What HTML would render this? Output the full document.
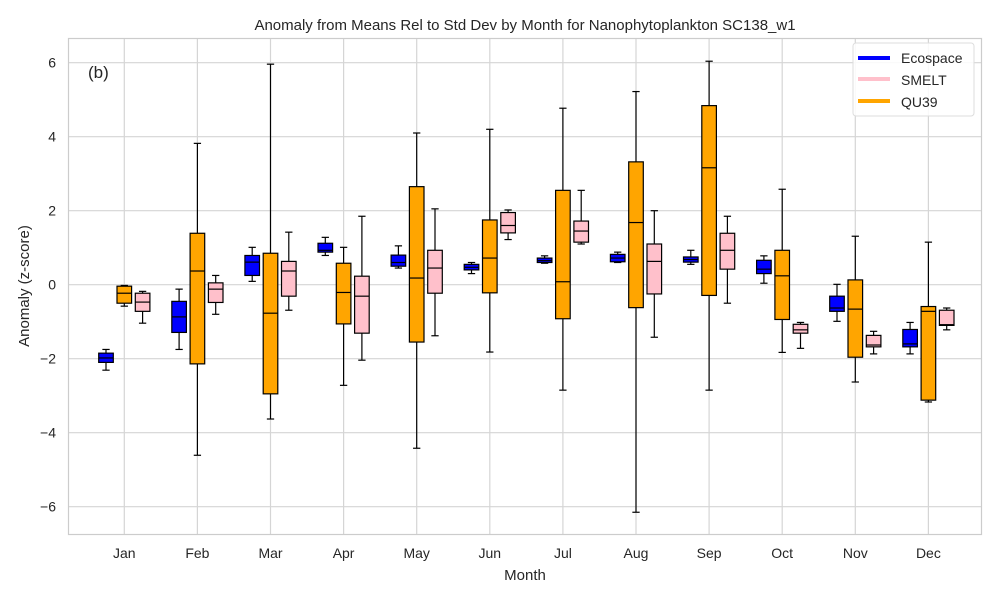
<!DOCTYPE html>
<html><head><meta charset="utf-8"><style>
body{margin:0;background:#fff;font-family:"Liberation Sans","DejaVu Sans",sans-serif}
svg text{font-family:"Liberation Sans","DejaVu Sans",sans-serif;fill:#262626}
</style></head><body>
<svg id="chart" width="1000" height="600" xmlns="http://www.w3.org/2000/svg">
<rect width="1000" height="600" fill="#fff"/>
<g id="grid"></g>
<g id="boxes"></g>
<rect x="68.5" y="38.5" width="913" height="496" fill="none" stroke="#ccc" stroke-width="1.2"/>
<g id="ticks"></g>
<text x="525" y="30" text-anchor="middle" font-size="15">Anomaly from Means Rel to Std Dev by Month for Nanophytoplankton SC138_w1</text>
<text x="525" y="580" text-anchor="middle" font-size="15">Month</text>
<text transform="translate(29,286) rotate(-90)" text-anchor="middle" font-size="15">Anomaly (z-score)</text>
<text x="88" y="78" font-size="17">(b)</text>
<g>
<rect x="853" y="43" width="121" height="73" rx="3" fill="#fff" fill-opacity="0.85" stroke="#ddd"/>
<line x1="858" y1="58" x2="890" y2="58" stroke="#0000ff" stroke-width="4"/>
<text x="901" y="63" font-size="14">Ecospace</text>
<line x1="858" y1="79" x2="890" y2="79" stroke="#ffc0cb" stroke-width="4"/>
<text x="901" y="85" font-size="14">SMELT</text>
<line x1="858" y1="101" x2="890" y2="101" stroke="#ffa500" stroke-width="4"/>
<text x="901" y="107" font-size="14">QU39</text>
</g>
</svg>
<script>
const months=["Jan","Feb","Mar","Apr","May","Jun","Jul","Aug","Sep","Oct","Nov","Dec"];
const yTicks=[-6,-4,-2,0,2,4,6];
// [whiskerLow, q1, median, q3, whiskerHigh]
const ecospace=[[-2.31,-2.10,-1.98,-1.85,-1.75],[-1.75,-1.29,-0.87,-0.45,-0.12],[0.09,0.25,0.61,0.79,1.01],[0.79,0.88,0.93,1.12,1.28],[0.45,0.5,0.6,0.8,1.05],[0.3,0.4,0.47,0.55,0.6],[0.58,0.6,0.65,0.72,0.78],[0.6,0.62,0.72,0.82,0.88],[0.55,0.61,0.68,0.75,0.93],[0.04,0.30,0.42,0.66,0.78],[-0.99,-0.72,-0.63,-0.31,0.01],[-1.87,-1.68,-1.60,-1.21,-1.02]];
const qu39=[[-0.58,-0.50,-0.23,-0.04,-0.02],[-4.61,-2.14,0.37,1.39,3.82],[-3.63,-2.95,-0.77,0.85,5.96],[-2.72,-1.06,-0.21,0.58,1.01],[-4.42,-1.55,0.18,2.65,4.1],[-1.82,-0.22,0.72,1.75,4.2],[-2.85,-0.92,0.08,2.55,4.77],[-6.15,-0.62,1.68,3.32,5.22],[-2.85,-0.29,3.16,4.84,6.04],[-1.83,-0.94,0.24,0.93,2.58],[-2.63,-1.96,-0.66,0.13,1.31],[-3.17,-3.12,-0.72,-0.59,1.15]];
const smelt=[[-1.04,-0.72,-0.47,-0.23,-0.18],[-0.80,-0.48,-0.12,0.05,0.25],[-0.69,-0.31,0.37,0.63,1.42],[-2.04,-1.31,-0.31,0.23,1.85],[-1.38,-0.23,0.45,0.93,2.05],[1.22,1.4,1.6,1.95,2.02],[1.1,1.15,1.45,1.72,2.55],[-1.42,-0.25,0.63,1.1,2.0],[-0.50,0.42,0.93,1.39,1.85],[-1.72,-1.31,-1.22,-1.07,-1.02],[-1.87,-1.68,-1.63,-1.37,-1.26],[-1.22,-1.10,-1.08,-0.69,-0.63]];
const NS="http://www.w3.org/2000/svg";
const X=i=>124.3+73.1*i;
const Y=v=>284.7-37.0*v;
function mk(t,a,p){const e=document.createElementNS(NS,t);for(const k in a)e.setAttribute(k,a[k]);p.appendChild(e);return e;}
const grid=document.getElementById('grid'),ticks=document.getElementById('ticks'),boxes=document.getElementById('boxes');
yTicks.forEach(v=>{
 const l=mk('line',{x1:68,x2:982,y1:Y(v),y2:Y(v),stroke:'#d5d5d5','stroke-width':1.2},grid);
 
 
 const t=mk('text',{x:56,y:Y(v)+5,'text-anchor':'end','font-size':14},ticks);
 t.textContent=v<0?'\u2212'+(-v):String(v);
 
 
});
months.forEach((m,i)=>{
 const l=mk('line',{x1:X(i),x2:X(i),y1:38,y2:534,stroke:'#d5d5d5','stroke-width':1.2},grid);
 
 
 const t=mk('text',{x:X(i),y:558,'text-anchor':'middle','font-size':14},ticks);
 t.textContent=m;
 
 
});
const W=14.6,CAP=7.3;
function box(d,cx,fill,name){
 const g=mk('g',{},boxes);
 
 
 const s={stroke:'#000','stroke-width':1.2};
 mk('line',Object.assign({x1:cx,x2:cx,y1:Y(d[0]),y2:Y(d[1])},s),g);
 mk('line',Object.assign({x1:cx,x2:cx,y1:Y(d[3]),y2:Y(d[4])},s),g);
 mk('line',Object.assign({x1:cx-CAP/2,x2:cx+CAP/2,y1:Y(d[0]),y2:Y(d[0])},s),g);
 mk('line',Object.assign({x1:cx-CAP/2,x2:cx+CAP/2,y1:Y(d[4]),y2:Y(d[4])},s),g);
 mk('rect',Object.assign({x:cx-W/2,y:Y(d[3]),width:W,height:Y(d[1])-Y(d[3]),fill:fill},s),g);
 mk('line',Object.assign({x1:cx-W/2,x2:cx+W/2,y1:Y(d[2]),y2:Y(d[2])},s),g);
}
months.forEach((m,i)=>{
 box(ecospace[i],X(i)-18.3,'#0000ff','ecospace-box-'+m.toLowerCase());
 box(qu39[i],X(i),'#ffa500','qu39-box-'+m.toLowerCase());
 box(smelt[i],X(i)+18.3,'#ffc0cb','smelt-box-'+m.toLowerCase());
});
</script>
</body></html>
